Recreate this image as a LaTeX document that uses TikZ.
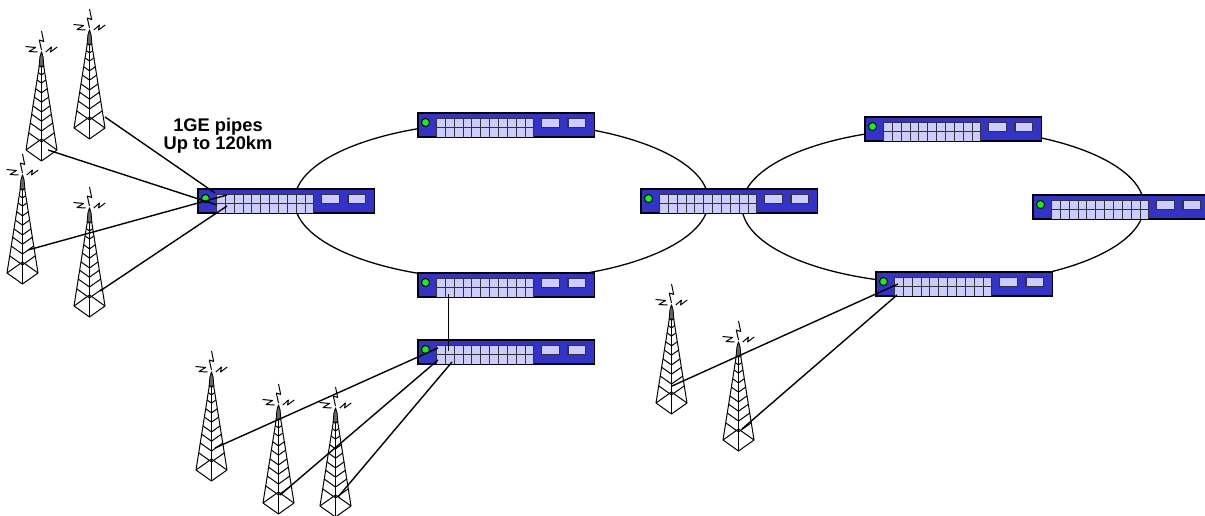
\documentclass[tikz,border=0pt]{standalone}
\usepackage{fontspec}
\setmainfont{Liberation Sans}
\definecolor{swblue}{HTML}{3333CC}
\definecolor{swpanel}{HTML}{CCCCFF}
\definecolor{swled}{HTML}{00FF00}
\tikzset{
    switchbody/.style={draw,fill=swblue,line width=1.5pt,minimum width=176.5pt,minimum height=24pt,inner sep=0pt,outer sep=0pt},
    panelline/.style={draw=black!80,line width=1.2pt},
    towerline/.style={line width=1pt,line join=round},
    link/.style={line width=1.4pt},
    ring/.style={line width=1.3pt}
}

\newcommand{\switchnode}[3]{
    \node [switchbody,anchor=north west] (#1) at (#2,#3) {};
    \begin{scope}[shift={(#2,#3)}]
        \fill [swled,draw=black,line width=1pt] (7.5,9.5) circle (4);
        \fill [swpanel] (18,5.5) rectangle (115.5,24);
        \foreach \c in {0,...,11} \draw [panelline] ({18.5+round(\c*8.86)},5.5) -- ({18.5+round(\c*8.86)},24);
        \draw [panelline] (18,5.5) -- (115.5,5.5);
        \draw [panelline] (18,14.5) -- (115.5,14.5);
        \draw [panelline,fill=swpanel] (123.5,5.5) rectangle (141.5,14.5);
        \draw [panelline,fill=swpanel] (150,5.5) rectangle (167.5,14.5);
    \end{scope}
}

\newcommand{\towernode}[3]{
    \coordinate (#1) at (#2,#3);
    \begin{scope}[shift={(#2,#3)},towerline]
        \draw (0,-3) -- (-15.5,95) -- (0,106) -- (15.5,95) -- cycle;
        \draw (0,-3) -- (0,106);
        \draw (-15.5,95) -- (0,84) -- (15.5,95);
        \foreach \t in {0.14,0.21,0.285,0.375,0.46,0.55,0.635,0.725,0.825}
            \draw ({-15.5*\t},{-3+98*\t}) -- (0,{-3+109*\t}) -- ({15.5*\t},{-3+98*\t});
        \fill [black!60,draw=black,line width=0.8pt] (-2.4,11) -- (-1.6,2) -- (0,-3) -- (1.6,2) -- (2.4,11) -- cycle;
        \draw (0,-24) -- (2.2,-13.5) -- (-2.2,-15) -- (0,-5);
        \draw (-16,-8.5) -- (-6,-7.5) -- (-12.5,-3.5) -- (-4,-3);
        \draw (4.3,-3) -- (10,-8) -- (9,-3) -- (15.7,-8);
    \end{scope}
}

\begin{document}
\begin{tikzpicture}[x=1pt,y=-1pt]

    \useasboundingbox (0,0) rectangle (1205,516);
    \clip (0,0) rectangle (1205,516);

    % the two rings
    \coordinate (leftring) at (501.5,201);
    \coordinate (rightring) at (943,206);
    \draw [ring] (leftring) ellipse [x radius=207,y radius=79];
    \draw [ring] (rightring) ellipse [x radius=201,y radius=78];

    \switchnode{swa}{198}{189}
    \switchnode{swb}{418}{113}
    \switchnode{swc}{418}{273}
    \switchnode{swd}{418}{340}
    \switchnode{swe}{641}{189}
    \switchnode{swf}{865}{117}
    \switchnode{swg}{1033}{195}
    \switchnode{swh}{876}{272}

    \towernode{ta}{41.5}{55}
    \towernode{tb}{89.5}{33}
    \towernode{tc}{22.5}{178}
    \towernode{td}{89.5}{211}
    \towernode{te}{211.5}{375}
    \towernode{tf}{278.5}{408}
    \towernode{tg}{335.5}{411}
    \towernode{th}{671.5}{308}
    \towernode{ti}{738.5}{345}

    % tower feet of the links
    \coordinate (ta foot) at (48,150);
    \coordinate (tb foot) at (105,117);
    \coordinate (tc foot) at (28,250);
    \coordinate (td foot) at (100,291);
    \coordinate (te foot) at (215,448);
    \coordinate (tf foot) at (280,495);
    \coordinate (tg foot) at (338,497);
    \coordinate (th foot) at (672,386);
    \coordinate (ti foot) at (742,429);

    % ports on the switches
    \coordinate (swa p1) at (215,193);
    \coordinate (swa p2) at (217,205);
    \coordinate (swa p3) at (227,195);
    \coordinate (swa p4) at (227,206);
    \coordinate (swc p1) at (448.5,294);
    \coordinate (swd p1) at (438,348);
    \coordinate (swd p2) at (438,360);
    \coordinate (swd p3) at (452,362);
    \coordinate (swd p4) at (448.5,351);
    \coordinate (swh p1) at (898,284);
    \coordinate (swh p2) at (897,295);

    \draw [link] (tb foot) -- (swa p1);
    \draw [link] (ta foot) -- (swa p2);
    \draw [link] (tc foot) -- (swa p3);
    \draw [link] (td foot) -- (swa p4);
    \draw [link] (swc p1) -- (swd p4);
    \draw [link] (te foot) -- (swd p1);
    \draw [link] (tf foot) -- (swd p2);
    \draw [link] (tg foot) -- (swd p3);
    \draw [link] (th foot) -- (swh p1);
    \draw [link] (ti foot) -- (swh p2);

    \node [font=\bfseries,align=center,inner sep=0pt] (pipes) at (218,135.5) {\fontsize{18.3}{22}\selectfont 1GE pipes\\\fontsize{18.3}{22}\selectfont Up to 120km};

\end{tikzpicture}
\end{document}
